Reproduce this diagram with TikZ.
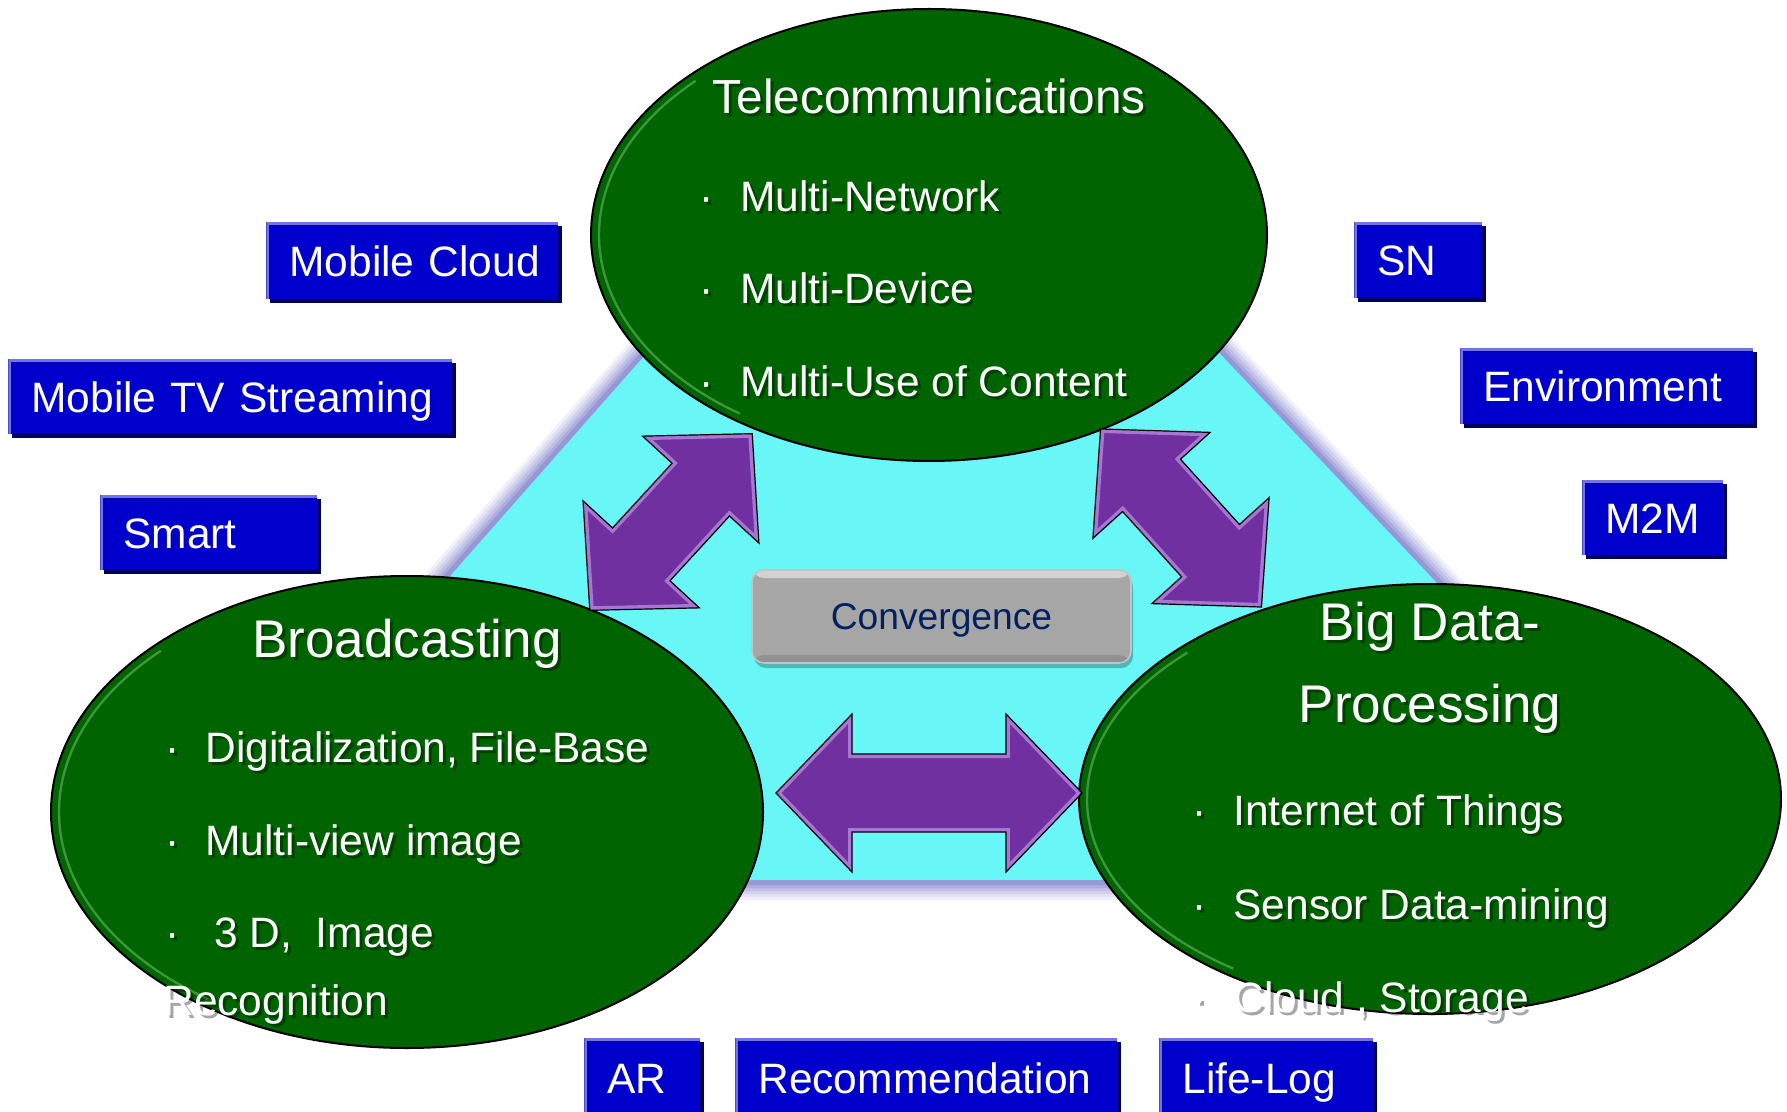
\documentclass[tikz,border=0pt]{standalone}
\usepackage{fontspec}
\setmainfont{Liberation Sans}
\usetikzlibrary{shapes.geometric,shadows}

\definecolor{cyanfill}{RGB}{104,246,246}
\definecolor{edgelav}{RGB}{140,140,210}
\definecolor{dkgreen}{RGB}{0,100,0}
\definecolor{hlgreen}{RGB}{150,225,150}
\definecolor{boxblue}{RGB}{0,0,204}
\definecolor{boxlight}{RGB}{115,115,225}
\definecolor{boxshadow}{RGB}{0,0,95}
\definecolor{arrpurple}{RGB}{112,48,160}
\definecolor{arrlight}{RGB}{205,165,245}
\definecolor{convgray}{RGB}{166,166,166}
\definecolor{convedge}{RGB}{195,195,195}
\definecolor{convtext}{RGB}{0,32,96}

\newcommand\fbody{\fontsize{21.25pt}{25pt}\selectfont}
\newcommand\ftitle{\fontsize{26.5pt}{30pt}\selectfont}
\newcommand\ftel{\fontsize{23.9pt}{28pt}\selectfont}
\newcommand\fconv{\fontsize{18.6pt}{22pt}\selectfont}
\newcommand\bxt[1]{\hspace*{11.5pt}#1}

% name, anchor, x, y, style, text
\newcommand\wtext[6]{%
  \node[#5, text=black, opacity=.35, anchor=#2] (#1-sh) at ([shift={(1.5pt,-1.5pt)}]#3,#4) {#6};
  \node[#5, text=white, anchor=#2] (#1) at (#3,#4) {#6};}

% x, y, angle, half length
\newcommand\blockarrow[4]{%
  \begin{scope}[shift={(#1,#2)}, rotate=#3]
    \begin{scope}
      \clip (-#4,0) -- ({-#4+76},-79) -- ({-#4+76},-39) -- ({#4-76},-39) -- ({#4-76},-79) -- (#4,0)
        -- ({#4-76},79) -- ({#4-76},39) -- ({-#4+76},39) -- ({-#4+76},79) -- cycle;
      \fill[arrpurple] (-#4,-90) rectangle (#4,90);
      \draw[arrlight, line width=4pt, opacity=.6, line join=miter]
        (-#4,0) -- ({-#4+76},-79) -- ({-#4+76},-39) -- ({#4-76},-39) -- ({#4-76},-79) -- (#4,0)
        -- ({#4-76},79) -- ({#4-76},39) -- ({-#4+76},39) -- ({-#4+76},79) -- cycle;
    \end{scope}
    \draw[black, line width=.6pt, line join=miter]
      (-#4,0) -- ({-#4+76},-79) -- ({-#4+76},-39) -- ({#4-76},-39) -- ({#4-76},-79) -- (#4,0)
      -- ({#4-76},79) -- ({#4-76},39) -- ({-#4+76},39) -- ({-#4+76},79) -- cycle;
  \end{scope}}

\begin{document}
\begin{tikzpicture}[x=0.5pt, y=-0.5pt,
  ell/.style={ellipse, fill=dkgreen, draw=black, line width=1pt, inner sep=0pt},
  hl/.style={draw=hlgreen, line width=1.2pt, opacity=.4},
  tri/.style={line join=round},
  body/.style={font=\fbody, inner sep=0pt, text height=15.2pt, text depth=0pt},
  ttl/.style={font=\ftitle, inner sep=0pt, text height=19pt, text depth=0pt},
  teltl/.style={font=\ftel, inner sep=0pt, text height=17.1pt, text depth=0pt},
  bluebox/.style={fill=boxblue, text=white, font=\fbody, align=left, anchor=north west,
    inner xsep=0pt, inner ysep=0pt, text height=15.2pt, text depth=0pt,
    drop shadow={shadow xshift=2pt, shadow yshift=-2pt, fill=boxshadow, opacity=1},
    path picture={\draw[boxlight, line width=3pt]
      (path picture bounding box.south west) -- (path picture bounding box.north west)
      -- (path picture bounding box.north east);}},
  conv/.style={rounded corners=6pt, fill=convgray, draw=convedge, line width=.8pt,
    text=convtext, font=\fconv, text height=13.3pt, text depth=0pt,
    drop shadow={shadow xshift=1pt, shadow yshift=-2.5pt, fill=black, opacity=.25},
    path picture={
      \fill[white, opacity=.5] (path picture bounding box.north west) rectangle ([yshift=-4pt]path picture bounding box.north east);
      \fill[black, opacity=.12] ([yshift=4pt]path picture bounding box.south west) rectangle (path picture bounding box.south east);}}
]
\fill[white] (0,0) rectangle (1787,1112);
\useasboundingbox (0,0) rectangle (1787,1112);
\clip (0,0) rectangle (1787,1112);

% triangle with soft lavender edge
\coordinate (tA) at (923,40);
\coordinate (tB) at (182,880);
\coordinate (tC) at (1718,880);
\draw[tri, line width=20pt, edgelav!12] (tA) -- (tB) -- (tC) -- cycle;
\draw[tri, line width=17pt, edgelav!25] (tA) -- (tB) -- (tC) -- cycle;
\draw[tri, line width=14pt, edgelav!40] (tA) -- (tB) -- (tC) -- cycle;
\draw[tri, line width=11pt, edgelav!55] (tA) -- (tB) -- (tC) -- cycle;
\draw[tri, line width=8pt, edgelav!72] (tA) -- (tB) -- (tC) -- cycle;
\draw[tri, line width=5pt, edgelav!90] (tA) -- (tB) -- (tC) -- cycle;
\fill[cyanfill] (tA) -- (tB) -- (tC) -- cycle;

% ellipses
\node[ell, minimum width=338pt, minimum height=226pt] (tel) at (929,235) {};
\node[ell, minimum width=356pt, minimum height=236pt] (brd) at (407,812) {};
\node[ell, minimum width=351pt, minimum height=215pt] (big) at (1430,799) {};
\draw[hl] ([shift={(135:165pt and 109pt)}]tel.center) arc[start angle=135, end angle=235, x radius=165pt, y radius=109pt];
\draw[hl] ([shift={(135:174pt and 114pt)}]brd.center) arc[start angle=135, end angle=235, x radius=174pt, y radius=114pt];
\draw[hl] ([shift={(135:171.5pt and 103.5pt)}]big.center) arc[start angle=135, end angle=235, x radius=171.5pt, y radius=103.5pt];

% block arrows
\blockarrow{671}{522}{47.4}{120}
\blockarrow{1181}{518}{-47.9}{120}
\blockarrow{929}{793}{0}{153}

% convergence
\node[conv, minimum width=189.5pt, minimum height=46.5pt] (cv) at (941.5,616.5) {Convergence};

% telecommunications texts
\wtext{telT}{center}{929}{96}{teltl}{Telecommunications}
\wtext{tb1}{center}{707}{196}{body}{·}
\wtext{tt1}{west}{740}{196}{body}{Multi-Network}
\wtext{tb2}{center}{707}{288}{body}{·}
\wtext{tt2}{west}{740}{288}{body}{Multi-Device}
\wtext{tb3}{center}{707}{381}{body}{·}
\wtext{tt3}{west}{740}{381}{body}{Multi-Use of Content}

% broadcasting texts
\wtext{brT}{center}{407}{638}{ttl}{Broadcasting}
\wtext{bb1}{center}{173}{747}{body}{·}
\wtext{bt1}{west}{205}{747}{body}{Digitalization, File-Base}
\wtext{bb2}{center}{173}{840}{body}{·}
\wtext{bt2}{west}{205}{840}{body}{Multi-view image}
\wtext{bb3}{center}{173}{932}{body}{·}
\wtext{bt3}{west}{214}{932}{body}{3 D,~~Image}
\wtext{bt4}{west}{163}{1000}{body}{Recognition}

% big data texts
\wtext{bgT1}{center}{1430}{621}{ttl}{Big Data-}
\wtext{bgT2}{center}{1430}{703}{ttl}{Processing}
\wtext{gb1}{center}{1200}{810}{body}{·}
\wtext{gt1}{west}{1233}{810}{body}{Internet of Things}
\wtext{gb2}{center}{1200}{904}{body}{·}
\wtext{gt2}{west}{1233}{904}{body}{Sensor Data-mining}
\wtext{gb3}{center}{1200}{997}{body}{·}
\wtext{gt3}{west}{1233}{997}{body}{Cloud , Storage}

% blue boxes
\node[bluebox, minimum width=146pt, minimum height=38.5pt, text width=146pt] (mcloud) at (266,222) {\bxt{Mobile Cloud}};
\node[bluebox, minimum width=222pt, minimum height=37.5pt, text width=222pt] (mtv) at (8,359) {\bxt{Mobile TV Streaming}};
\node[bluebox, minimum width=108.5pt, minimum height=37.5pt, text width=108.5pt] (smart) at (100,495) {\bxt{Smart}};
\node[bluebox, minimum width=64pt, minimum height=38pt, text width=64pt] (sn) at (1354,222) {\bxt{SN}};
\node[bluebox, minimum width=146.5pt, minimum height=38pt, text width=146.5pt] (env) at (1460,348) {\bxt{Environment}};
\node[bluebox, minimum width=70.5pt, minimum height=37.5pt, text width=70.5pt] (m2m) at (1582,480) {\bxt{M2M}};
\node[bluebox, minimum width=58pt, minimum height=40pt, text width=58pt] (ar) at (584,1038) {\bxt{AR}};
\node[bluebox, minimum width=191pt, minimum height=40pt, text width=191pt] (rec) at (735,1038) {\bxt{Recommendation}};
\node[bluebox, minimum width=107pt, minimum height=40pt, text width=107pt] (life) at (1159,1038) {\bxt{Life-Log}};
\end{tikzpicture}
\end{document}
